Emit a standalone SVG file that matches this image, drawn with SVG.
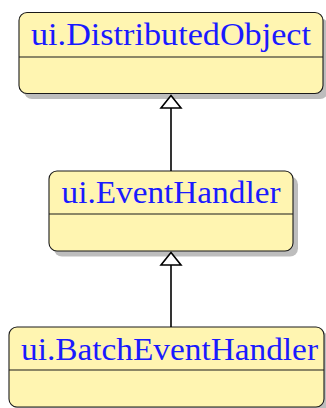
<svg xmlns="http://www.w3.org/2000/svg" width="326" height="408" viewBox="0 0 326 408">
  <style>
    .shadow { fill: #bdbdbd; }
    .box { fill: #fff5b1; stroke: #1a1a1a; stroke-width: 1.1; }
    .sep { stroke: #1a1a1a; stroke-width: 1.1; }
    .name { font-family: "Liberation Serif", "DejaVu Serif", serif; font-size: 31px; fill: #1a1aff; text-anchor: middle; }
    .edge { stroke: #000; stroke-width: 1.6; fill: none; }
    .head { fill: #fff; stroke: #000; stroke-width: 1.6; stroke-linejoin: miter; }
  </style>
  <rect width="326" height="408" fill="#fff"/>

  <g id="DistributedObject">
    <rect class="shadow" x="24" y="18" width="304" height="81" rx="8"/>
    <rect class="box" x="19" y="12.5" width="304" height="81" rx="8"/>
    <line class="sep" x1="19" y1="57" x2="323" y2="57"/>
    <text class="name" x="171" y="45" textLength="280" lengthAdjust="spacingAndGlyphs">ui.DistributedObject</text>
  </g>

  <g id="EventHandler">
    <rect class="shadow" x="54" y="176.5" width="244" height="80" rx="8"/>
    <rect class="box" x="49" y="171" width="244" height="80" rx="8"/>
    <line class="sep" x1="49" y1="214" x2="293" y2="214"/>
    <text class="name" x="171" y="203" textLength="219" lengthAdjust="spacingAndGlyphs">ui.EventHandler</text>
  </g>

  <g id="BatchEventHandler">
    <rect class="shadow" x="14" y="332.5" width="316" height="80" rx="8"/>
    <rect class="box" x="9" y="327" width="315" height="80" rx="8"/>
    <line class="sep" x1="9" y1="370" x2="324" y2="370"/>
    <text class="name" x="169.5" y="360" textLength="297" lengthAdjust="spacingAndGlyphs">ui.BatchEventHandler</text>
  </g>

  <g id="connectors">
    <line class="edge" x1="171" y1="171" x2="171" y2="108"/>
    <polygon class="head" points="171,95.5 181,108 161,108"/>
    <line class="edge" x1="171" y1="327" x2="171" y2="265"/>
    <polygon class="head" points="171,252.5 181,265 161,265"/>
  </g>
</svg>
